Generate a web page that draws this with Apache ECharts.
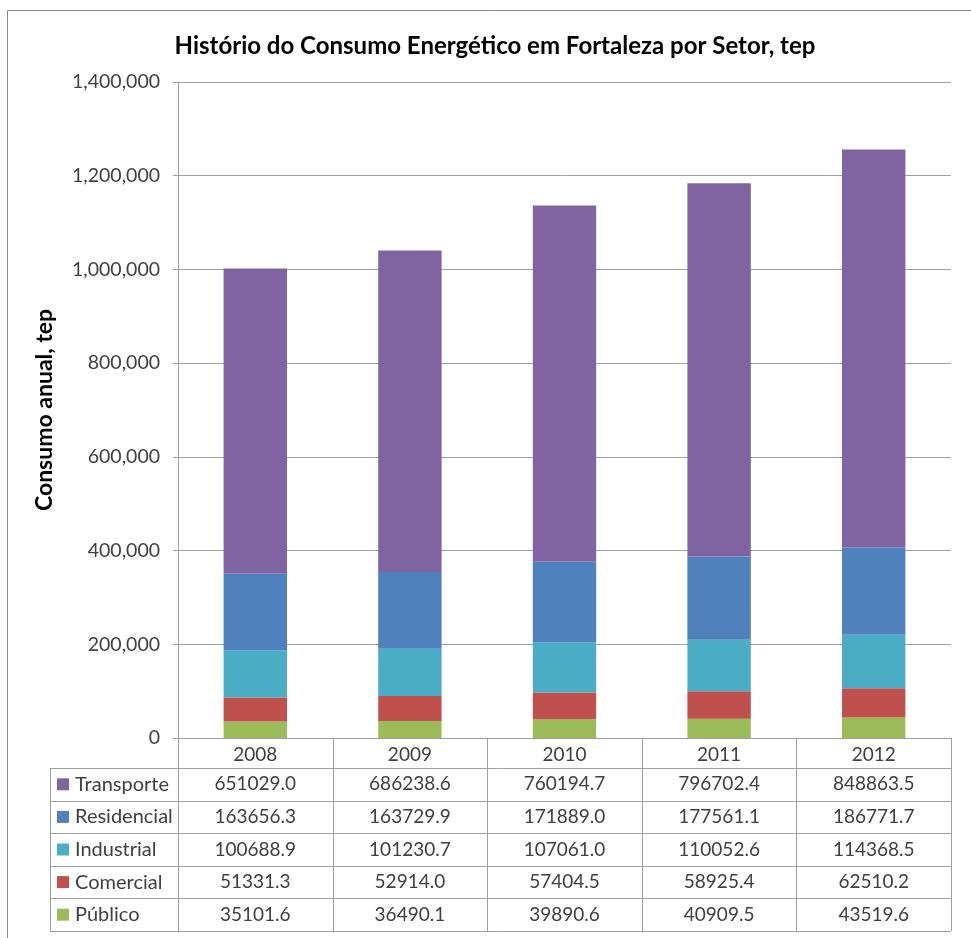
<!DOCTYPE html>
<html>
<head>
<meta charset="utf-8">
<script src="https://cdn.jsdelivr.net/npm/echarts@6/dist/echarts.min.js"></script>
<style>html,body{margin:0;padding:0;background:#fff;}#c{width:971px;height:938px;}</style>
</head>
<body>
<div id="c"></div>
<script>
const categories = ['2008', '2009', '2010', '2011', '2012'];
const transporte = [651029.0, 686238.6, 760194.7, 796702.4, 848863.5];
const residencial = [163656.3, 163729.9, 171889.0, 177561.1, 186771.7];
const industrial = [100688.9, 101230.7, 107061.0, 110052.6, 114368.5];
const comercial = [51331.3, 52914.0, 57404.5, 58925.4, 62510.2];
const publico = [35101.6, 36490.1, 39890.6, 40909.5, 43519.6];
const seriesNames = ['Público', 'Comercial', 'Industrial', 'Residencial', 'Transporte'];
const seriesData = [publico, comercial, industrial, residencial, transporte];
const seriesColors = ['#9BBB59', '#C0504D', '#4BACC6', '#4F81BD', '#8064A2'];
const yMax = 1400000;
const yInterval = 200000;

const FONT = 'Lato';
const TXT = '#404040';
const LINE = '#A0A0A0';

const chart = echarts.init(document.getElementById('c'), null, {renderer: 'canvas'});

const option = {
  animation: false,
  backgroundColor: '#fff',
  title: {
    text: 'Histório do Consumo Energético em Fortaleza por Setor, tep',
    left: 490, top: 29, textAlign: 'center',
    textStyle: {fontFamily: FONT, fontWeight: 'bold', fontSize: 24, color: '#000'}
  },
  grid: {left: 178, right: 20, top: 82, bottom: 200, containLabel: false},
  xAxis: {
    type: 'category', data: categories,
    axisLine: {show: true, lineStyle: {color: LINE, width: 1}},
    axisTick: {show: false},
    axisLabel: {margin: 7, fontFamily: FONT, fontSize: 19, color: TXT}
  },
  yAxis: {
    type: 'value', min: 0, max: yMax, interval: yInterval,
    name: 'Consumo anual, tep', nameLocation: 'middle', nameGap: 122, nameRotate: 90,
    nameTextStyle: {fontFamily: FONT, fontWeight: 'bold', fontSize: 23, color: '#000'},
    axisLine: {show: true, lineStyle: {color: LINE}},
    axisTick: {show: true, length: 5, lineStyle: {color: LINE}},
    splitLine: {show: true, lineStyle: {color: LINE, width: 1}},
    axisLabel: {margin: 18, fontFamily: FONT, fontSize: 19.5, color: TXT,
      formatter: v => v.toLocaleString('en-US')}
  },
  series: seriesNames.map((n, i) => ({
    name: n, type: 'bar', stack: 'total', data: seriesData[i],
    barCategoryGap: '59%',
    itemStyle: {color: seriesColors[i]}
  }))
};
chart.setOption(option);

// Data table below the plot, positioned from the axes
function buildTable() {
  const c0 = chart.convertToPixel({xAxisIndex: 0}, 0);
  const c1 = chart.convertToPixel({xAxisIndex: 0}, 1);
  const step = c1 - c0;
  const y0 = chart.convertToPixel({yAxisIndex: 0}, 0);
  const headerH = 30;
  const rowH = 32.6;
  const tableLeft = 50;
  const bounds = [];
  for (let i = 0; i <= categories.length; i++) bounds.push(c0 - step / 2 + i * step);
  const right = bounds[bounds.length - 1];
  const rows = seriesNames.slice().reverse();
  const rowData = seriesData.slice().reverse();
  const rowColors = seriesColors.slice().reverse();
  const bottom = y0 + headerH + rows.length * rowH;
  const els = [];
  const ln = (x1, y1, x2, y2) => els.push({type: 'line', shape: {x1, y1, x2, y2},
    style: {stroke: LINE, lineWidth: 1}, silent: true});
  for (let r = 0; r <= rows.length; r++) {
    const y = Math.round(y0 + headerH + r * rowH) + 0.5;
    ln(tableLeft, y, right, y);
  }
  ln(tableLeft + 0.5, y0 + headerH, tableLeft + 0.5, bottom);
  bounds.forEach(x => ln(Math.round(x) + 0.5, y0, Math.round(x) + 0.5, bottom));
  rows.forEach((name, r) => {
    const cy = y0 + headerH + (r + 0.5) * rowH;
    els.push({type: 'rect', shape: {x: 57, y: cy - 6, width: 12, height: 12},
      style: {fill: rowColors[r]}, silent: true});
    els.push({type: 'text', x: 75, y: cy, style: {text: name, fontFamily: FONT, fontSize: 20,
      fill: TXT, textVerticalAlign: 'middle', textAlign: 'left'}, silent: true});
    rowData[r].forEach((v, i) => {
      els.push({type: 'text', x: c0 + i * step, y: cy, style: {text: v.toFixed(1),
        fontFamily: FONT, fontSize: 19, fill: TXT, textAlign: 'center', textVerticalAlign: 'middle'}, silent: true});
    });
  });
  els.push({type: 'rect', shape: {x: 7.5, y: 10.5, width: 990, height: 990},
    style: {fill: null, stroke: '#888', lineWidth: 1}, silent: true, z: 100});
  chart.setOption({graphic: {elements: els}});
}
buildTable();
</script>
</body>
</html>
